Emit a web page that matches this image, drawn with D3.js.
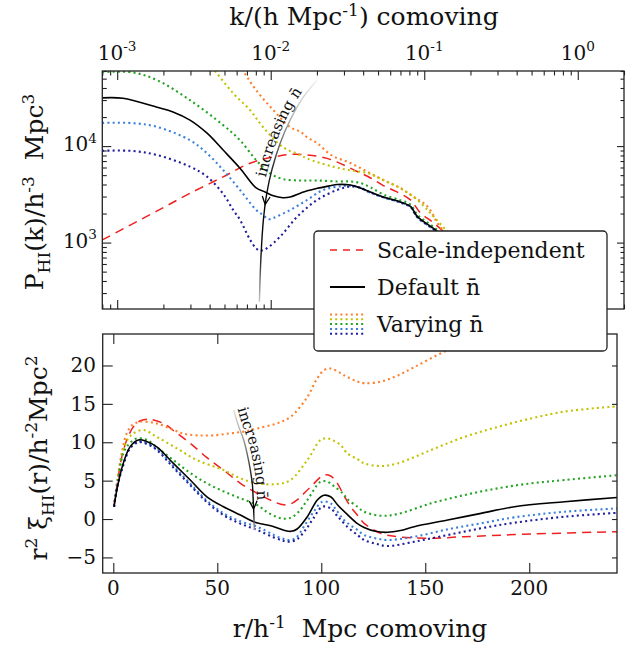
<!DOCTYPE html>
<html>
<head>
<meta charset="utf-8">
<script src="https://cdn.jsdelivr.net/npm/d3@7/dist/d3.min.js"></script>
<style>
  html, body { margin: 0; padding: 0; background: #fff; }
  text { font-family: "DejaVu Serif", serif; fill: #111; white-space: pre; }
</style>
</head>
<body>
<svg id="fig" width="635" height="647"></svg>
<script>
// ---------------- HI power spectrum, P(k) in h^-3 Mpc^3 ----------------
const pkScaleIndependent = [[8.0e-4,1066],[1.82e-3,2130],[2.98e-3,3240],[4.90e-3,4800],[7.34e-3,6650],[0.0104,7700],[0.0134,8200],[0.0173,8100],[0.0230,7500],[0.0297,6400],[0.0366,5450],[0.0445,4700],[0.0541,3900],[0.066,3370],[0.0813,2770],[0.0944,2030],[0.115,1600],[0.16,1000],[0.22,600]];
const pkDefault = [[8.0e-4,31600],[1.09e-3,31300],[1.82e-3,25300],[2.31e-3,22600],[2.98e-3,18600],[3.85e-3,13600],[4.90e-3,9100],[6.31e-3,5900],[8.04e-3,3680],[9.19e-3,3350],[0.0104,3050],[0.0120,2920],[0.0134,2970],[0.0156,3250],[0.0173,3450],[0.0201,3650],[0.0244,3880],[0.0271,4000],[0.0330,3950],[0.0383,3680],[0.0445,3350],[0.0541,2970],[0.0698,2640],[0.0813,2370],[0.0850,2150],[0.0902,1860],[0.122,1300],[0.16,850],[0.22,500]];
const pkNbar1 = [[3.0e-3,250000],[4.5e-3,140000],[5.5e-3,90000],[6.61e-3,60000],[8.04e-3,37900],[0.0104,23600],[0.0134,15700],[0.0156,14100],[0.0173,12300],[0.0201,10700],[0.0250,8000],[0.0330,6670],[0.0425,5430],[0.0541,4450],[0.0698,3680],[0.0850,2990],[0.105,2370],[0.127,1450],[0.16,1050],[0.22,620]];
const pkNbar2 = [[1.5e-3,200000],[2.5e-3,140000],[3.5e-3,90000],[4.34e-3,60000],[5.69e-3,35300],[7.34e-3,23600],[8.92e-3,15700],[0.0120,9770],[0.0156,8080],[0.0173,7400],[0.0255,6120],[0.0330,5600],[0.0425,5260],[0.0541,4450],[0.0698,3650],[0.0902,2770],[0.115,1860],[0.16,1050],[0.22,620]];
const pkNbar3 = [[8.0e-4,58500],[1.26e-3,58000],[1.82e-3,48200],[2.98e-3,29900],[4.90e-3,16500],[6.31e-3,11500],[8.04e-3,7160],[9.90e-3,5220],[0.0120,4560],[0.0156,4400],[0.0201,4400],[0.0271,4300],[0.0330,4300],[0.0383,4150],[0.0445,3750],[0.0541,3150],[0.0698,2750],[0.0813,2480],[0.0902,1950],[0.122,1350],[0.16,880],[0.22,520]];
const pkNbar4 = [[8.0e-4,17400],[1.26e-3,17300],[1.82e-3,15800],[2.98e-3,11500],[3.85e-3,8400],[4.90e-3,5650],[6.31e-3,3510],[8.04e-3,2180],[8.92e-3,1930],[9.62e-3,1750],[0.0104,1800],[0.0134,2180],[0.0173,2770],[0.0220,3510],[0.0297,3860],[0.0366,3800],[0.0445,3300],[0.0541,2950],[0.0698,2620],[0.0813,2350],[0.0902,1840],[0.122,1280],[0.16,840],[0.22,500]];
const pkNbar5 = [[8.0e-4,8940],[1.26e-3,8900],[1.82e-3,8070],[2.98e-3,6120],[3.85e-3,4820],[4.90e-3,3200],[5.69e-3,2180],[6.31e-3,1720],[7.34e-3,1070],[8.04e-3,870],[8.53e-3,826],[9.19e-3,850],[0.0115,1150],[0.0149,1860],[0.0201,2770],[0.0271,3510],[0.0330,3800],[0.0383,3700],[0.0445,3300],[0.0541,2950],[0.0698,2600],[0.0813,2340],[0.0902,1830],[0.122,1270],[0.16,830],[0.22,500]];

// ---------------- correlation function, r^2 xi(r) ----------------
const xiScaleIndependent = [[0.34,1.6],[2,4.8],[4,8],[6.46,10.3],[9.64,12.0],[13,12.8],[16.9,13.0],[24.1,12.45],[30,11.3],[37,9.86],[45,8.0],[53,6.38],[61.1,4.65],[69.2,3.35],[76,2.4],[82,1.85],[85.5,2.0],[88.4,2.5],[94.9,4.2],[101.3,5.73],[104.5,5.6],[107.7,4.65],[111,3.0],[114.1,1.6],[117.4,0.5],[120.6,-0.56],[128.6,-1.86],[136.7,-2.3],[152.7,-2.5],[168.9,-2.3],[200.9,-1.95],[243,-1.65]];
const xiDefault = [[0.34,1.6],[2,4.2],[4.8,7.25],[8.05,9.4],[12.1,10.3],[16,10.1],[20.9,9.4],[28.9,7.25],[37,5.08],[45,2.9],[53,1.6],[61.1,0.52],[67.5,-0.35],[77.2,-1.0],[82,-1.45],[85.5,-1.6],[88.4,-1.3],[93.3,0.3],[98.1,2.47],[101.3,3.1],[104.5,2.9],[108,1.8],[112.5,0.6],[117.4,-0.6],[120.6,-1.1],[126,-1.6],[131.8,-1.73],[138,-1.5],[144.7,-1.0],[160.8,-0.13],[176.8,0.74],[192.9,1.6],[217,2.25],[243,2.82]];
const xiNbar1 = [[0.34,1.6],[2,5.2],[4.05,8.55],[6.46,11.16],[9,12.2],[12.9,12.67],[20.9,12.45],[28.9,11.6],[34,11.1],[40.2,10.9],[48,10.9],[56.3,11.16],[63,11.4],[69.2,11.8],[78,12.4],[85.2,13.3],[93.3,15.9],[98,18.3],[101.4,19.4],[104.5,19.6],[109.3,19.0],[112.5,18.5],[117.4,17.9],[120.7,17.7],[128.6,17.9],[136,18.6],[144.8,19.8],[159.2,21.8],[175,23.5],[190,25]];
const xiNbar2 = [[0.34,1.6],[2,5],[4.8,9.0],[7,10.4],[9.64,11.16],[14.5,11.6],[20.9,10.7],[30.6,9.2],[40.2,7.68],[53,6.38],[61.1,5.3],[69.2,4.65],[78.8,4.56],[85.2,5.08],[93.3,7.68],[99.7,10.3],[102.9,10.5],[106,10.2],[109.3,9.64],[112.5,8.55],[117.4,7.8],[120.7,7.25],[128.6,6.9],[136.7,7.25],[152.7,8.98],[168.9,10.7],[184.9,12.0],[200.9,13.1],[217.1,14.0],[243,14.7]];
const xiNbar3 = [[0.34,1.6],[2,4.6],[4.8,8.55],[8,9.9],[11.3,10.5],[16.1,10.3],[22,9.1],[28.9,7.68],[37,6.0],[45,4.65],[53,3.6],[61.1,2.7],[69.2,1.82],[74,0.9],[78.8,0.25],[82,0.05],[85.2,0.15],[89,0.9],[93.3,2.47],[99.7,4.86],[102.9,4.86],[106,4.3],[110.9,3.2],[112.5,2.6],[117.4,1.6],[120.6,0.95],[128.6,0.43],[136.7,0.65],[152.7,2.04],[168.9,3.13],[184.9,4.0],[200.9,4.65],[217,5.08],[243,5.73]];
const xiNbar4 = [[0.34,1.6],[2,4.3],[4.8,7.1],[8.05,9.3],[12.1,10.1],[16,9.9],[20.9,9.2],[28.9,6.9],[37,4.6],[45,2.4],[53,0.74],[61.1,-0.3],[69.2,-1.0],[77.2,-2.08],[82,-2.6],[85.2,-2.73],[88,-2.4],[91.6,-1.0],[96,0.8],[100.5,2.25],[104.5,2.04],[107.7,1.0],[110.9,-0.13],[114,-0.8],[117.4,-1.43],[120.6,-2.08],[126,-2.5],[131.8,-2.73],[144.8,-2.3],[160.8,-1.34],[176.8,-0.56],[192.9,0.22],[217,0.95],[243,1.39]];
const xiNbar5 = [[0.34,1.6],[2,4.3],[4.8,7.0],[8.05,9.2],[12.1,10.0],[16,9.8],[20.9,9.0],[28.9,6.7],[37,4.4],[45,2.2],[53,0.5],[61.1,-0.6],[69.2,-1.43],[77.2,-2.4],[82,-2.85],[85.2,-2.95],[88.5,-2.6],[92.4,-1.43],[96,0.0],[100.5,1.6],[104.5,1.4],[107.7,0.4],[112.5,-1.0],[117.4,-2.08],[120.6,-2.73],[126,-3.2],[131.8,-3.52],[144.8,-2.95],[160.8,-2.08],[176.8,-1.21],[192.9,-0.48],[217,0.30],[243,0.82]];

// series styling (lowest to highest number density)
const nbarColors = ["#ff7f2a", "#c2c200", "#22a322", "#3c80dd", "#1e1e9e"];
const scaleIndepColor = "#f02020";

// ticks and labels
const kMajorTicks = [1e-3, 1e-2, 1e-1, 1];
const kTickExponents = ["-3", "-2", "-1", "0"];
const pMajorTicks = [1e3, 1e4];
const pTickExponents = ["3", "4"];
const rTicks = [0, 50, 100, 150, 200];
const xiTicks = [-5, 0, 5, 10, 15, 20];
const legendLabels = ["Scale-independent", "Default n\u0304", "Varying n\u0304"];
const arrowLabel = "increasing n\u0304";

// annotation arrows, in data coordinates of each panel (listed in reading order of the label)
const pkArrow = [[8.44e-3,244],[8.62e-3,662],[8.96e-3,1717],[9.43e-3,3245],[0.01017,5650],[0.01151,10660],[0.01338,18570],[0.01634,32360],[0.0200,48200]];
const pkArrowTip = [9.2e-3, 2480];
const pkLabelStart = 4700;   // P where the label begins along the arrow
const xiArrow = [[57.9,14.2],[60.1,12.2],[62.7,10.3],[64.5,8.33],[65.9,6.38],[66.9,4.43],[67.2,2.9],[67.5,1.17],[67.8,-1.43]];
const xiArrowTip = [67.45, 1.3];
const xiLabelStart = 14.5;   // r^2 xi where the label begins along the arrow

// ---------------- layout ----------------
const svg = d3.select("#fig");
const boxTop = { x0: 102.3, x1: 624, y0: 71, y1: 309 };
const boxBot = { x0: 102.7, x1: 617, y0: 334, y1: 573 };

const kScale = d3.scaleLog().domain([8e-4, 2]).range([boxTop.x0, boxTop.x1]);
const pScale = d3.scaleLog().domain([205, 6e4]).range([boxTop.y1, boxTop.y0]);
const rScale = d3.scaleLinear().domain([-5.1, 242.2]).range([boxBot.x0, boxBot.x1]);
const xiScale = d3.scaleLinear().domain([-7.03, 24.1]).range([boxBot.y1, boxBot.y0]);

const defs = svg.append("defs");
defs.append("clipPath").attr("id", "clipTop").append("rect")
  .attr("x", boxTop.x0).attr("y", boxTop.y0).attr("width", boxTop.x1 - boxTop.x0).attr("height", boxTop.y1 - boxTop.y0);
defs.append("clipPath").attr("id", "clipBot").append("rect")
  .attr("x", boxBot.x0).attr("y", boxBot.y0).attr("width", boxBot.x1 - boxBot.x0).attr("height", boxBot.y1 - boxBot.y0);

// text with super/subscripts
function rich(sel, parts, size, supRaise = 0.42) {
  let cur = 0;
  for (const [t, kind] of parts) {
    const off = kind === "sup" ? -supRaise * size : kind === "sub" ? 0.28 * size : 0;
    const ts = sel.append("tspan").attr("dy", (off - cur).toFixed(2)).text(t);
    if (kind) ts.attr("font-size", (0.68 * size).toFixed(1));
    cur = off;
  }
  return sel;
}

// inward ticks drawn with d3 axes
function tickRow(axisFn, scale, values, size, tx, ty) {
  svg.append("g").attr("transform", `translate(${tx},${ty})`).attr("color", "#222")
    .call(axisFn(scale).tickValues(values).tickSize(-size).tickFormat(""))
    .call(g => g.select(".domain").remove())
    .call(g => g.selectAll("line").attr("stroke-width", 1.1));
}

const isDecade = v => Math.abs(Math.log10(v) - Math.round(Math.log10(v))) < 1e-9;
const kMinor = kScale.ticks().filter(v => !isDecade(v));
const pMinor = pScale.ticks().filter(v => !isDecade(v));

// ---- top panel ticks ----
tickRow(d3.axisTop, kScale, kMajorTicks, 9, 0, boxTop.y0);
tickRow(d3.axisTop, kScale, kMinor, 4.5, 0, boxTop.y0);
tickRow(d3.axisBottom, kScale, kMajorTicks, 9, 0, boxTop.y1);
tickRow(d3.axisBottom, kScale, kMinor, 4.5, 0, boxTop.y1);
tickRow(d3.axisLeft, pScale, pMajorTicks, 9, boxTop.x0, 0);
tickRow(d3.axisLeft, pScale, pMinor, 4.5, boxTop.x0, 0);
tickRow(d3.axisRight, pScale, pMajorTicks, 7, boxTop.x1, 0);
tickRow(d3.axisRight, pScale, pMinor, 3.5, boxTop.x1, 0);

// ---- bottom panel ticks ----
tickRow(d3.axisBottom, rScale, rTicks, 10, 0, boxBot.y1);
tickRow(d3.axisTop, rScale, rTicks, 10, 0, boxBot.y0);
tickRow(d3.axisLeft, xiScale, xiTicks, 10, boxBot.x0, 0);
tickRow(d3.axisRight, xiScale, xiTicks, 5, boxBot.x1, 0);

// ---- curves ----
const smooth = d3.curveCatmullRom.alpha(0.5);
const pkLine = d3.line().x(d => kScale(d[0])).y(d => pScale(d[1])).curve(smooth);
const xiLine = d3.line().x(d => rScale(d[0])).y(d => xiScale(d[1])).curve(smooth);

const gTop = svg.append("g").attr("clip-path", "url(#clipTop)").attr("fill", "none");
const gBot = svg.append("g").attr("clip-path", "url(#clipBot)").attr("fill", "none");

const DOT = "2,3.2", DASH = "9,6";

function drawSet(g, line, scaleIndep, varying, deflt) {
  g.append("path").attr("d", line(scaleIndep)).attr("stroke", scaleIndepColor)
    .attr("stroke-width", 1.5).attr("stroke-dasharray", DASH);
  varying.forEach((s, i) => {
    g.append("path").attr("d", line(s)).attr("stroke", nbarColors[i])
      .attr("stroke-width", 2.1).attr("stroke-dasharray", DOT);
  });
  g.append("path").attr("d", line(deflt)).attr("stroke", "#000").attr("stroke-width", 1.6);
}
drawSet(gTop, pkLine, pkScaleIndependent, [pkNbar1, pkNbar2, pkNbar3, pkNbar4, pkNbar5], pkDefault);
drawSet(gBot, xiLine, xiScaleIndependent, [xiNbar1, xiNbar2, xiNbar3, xiNbar4, xiNbar5], xiDefault);

// ---- "increasing n" arrows with labels running alongside ----
function fadingArrow(id, pts, tip, labelY, stops) {
  const p0 = pts[0], p1 = pts[pts.length - 1];
  const top = p0[1] < p1[1] ? p0 : p1, bottom = top === p0 ? p1 : p0;
  const gr = defs.append("linearGradient").attr("id", id).attr("gradientUnits", "userSpaceOnUse")
    .attr("x1", top[0]).attr("y1", top[1]).attr("x2", bottom[0]).attr("y2", bottom[1]);
  stops.forEach(([o, c]) => gr.append("stop").attr("offset", o).attr("stop-color", c));
  const curve = d3.line().curve(d3.curveCatmullRom);
  svg.append("path").attr("d", curve(pts))
    .attr("fill", "none").attr("stroke", `url(#${id})`).attr("stroke-width", 1.4);

  // arrowhead oriented along the local downward direction of the curve
  const down = pts.slice().sort((a, b) => a[1] - b[1]);
  let j = down.findIndex(p => p[1] > tip[1]);
  if (j < 1) j = 1;
  const a = down[j - 1], b = down[j];
  const dx = b[0] - a[0], dy = b[1] - a[1], L = Math.hypot(dx, dy);
  const ux = dx / L, uy = dy / L, wl = 9, sp = 0.45, c = Math.cos(sp), s = Math.sin(sp);
  const w1 = [tip[0] - wl * (ux * c - uy * s), tip[1] - wl * (uy * c + ux * s)];
  const w2 = [tip[0] - wl * (ux * c + uy * s), tip[1] - wl * (uy * c - ux * s)];
  svg.append("path").attr("d", `M${w1}L${tip}L${w2}`).attr("fill", "none")
    .attr("stroke", "#000").attr("stroke-width", 1.3);

  // label baseline: the arrow curve shifted a few pixels towards the glyph tops
  const gap = 4;
  const shifted = pts.map((p, i) => {
    const q0 = pts[Math.max(0, i - 1)], q1 = pts[Math.min(pts.length - 1, i + 1)];
    const tx = q1[0] - q0[0], ty = q1[1] - q0[1], tl = Math.hypot(tx, ty);
    return [p[0] + gap * ty / tl, p[1] - gap * tx / tl];
  });
  const guide = defs.append("path").attr("id", id + "Guide").attr("d", curve(shifted));
  const node = guide.node(), total = node.getTotalLength();
  let start = 0;
  for (let l = 0; l <= total; l += 0.5) {
    const pt = node.getPointAtLength(l);
    const passed = top === p1 ? pt.y <= labelY : pt.y >= labelY;
    if (passed) { start = l; break; }
  }
  svg.append("text").attr("font-size", 15)
    .append("textPath").attr("href", `#${id}Guide`).attr("startOffset", start.toFixed(1))
    .text(arrowLabel);
}
const px = (sx, sy) => d => [sx(d[0]), sy(d[1])];
const pkPx = px(kScale, pScale), xiPx = px(rScale, xiScale);

fadingArrow("fadeTop", pkArrow.map(pkPx), pkPx(pkArrowTip), pScale(pkLabelStart),
  [[0, "#f2f2f2"], [0.2, "#aaaaaa"], [0.4, "#333"], [0.55, "#000"], [0.8, "#111"], [1, "#c8c8c8"]]);
fadingArrow("fadeBot", xiArrow.map(xiPx), xiPx(xiArrowTip), xiScale(xiLabelStart),
  [[0, "#e0e0e0"], [0.3, "#888"], [0.6, "#111"], [0.85, "#000"], [1, "#aaaaaa"]]);

// ---- frames ----
[boxTop, boxBot].forEach(b => svg.append("rect").attr("x", b.x0).attr("y", b.y0)
  .attr("width", b.x1 - b.x0).attr("height", b.y1 - b.y0)
  .attr("fill", "none").attr("stroke", "#222").attr("stroke-width", 1.3));

// ---- tick labels ----
const TS = 20;
kMajorTicks.forEach((k, i) => {
  rich(svg.append("text").attr("x", kScale(k)).attr("y", 59.5).attr("text-anchor", "middle").attr("font-size", TS),
    [["10", null], [kTickExponents[i], "sup"]], TS);
});
pMajorTicks.forEach((p, i) => {
  rich(svg.append("text").attr("x", 97).attr("y", pScale(p) + 5).attr("text-anchor", "end").attr("font-size", TS),
    [["10", null], [pTickExponents[i], "sup"]], TS);
});
rTicks.forEach(r => {
  svg.append("text").attr("x", rScale(r)).attr("y", 595).attr("text-anchor", "middle")
    .attr("font-size", TS).text(d3.format("d")(r));
});
xiTicks.forEach(v => {
  svg.append("text").attr("x", 96).attr("y", xiScale(v) + 7).attr("text-anchor", "end")
    .attr("font-size", TS).text(v < 0 ? "\u2212" + Math.abs(v) : String(v));
});

// ---- axis titles ----
const AS = 25;
rich(svg.append("text").attr("x", 364).attr("y", 25).attr("text-anchor", "middle").attr("font-size", AS),
  [["k/(h Mpc", null], ["-1", "sup"], [") comoving", null]], AS, 0.36);
rich(svg.append("text").attr("x", 360).attr("y", 637).attr("text-anchor", "middle").attr("font-size", AS),
  [["r/h", null], ["-1", "sup"], ["  Mpc comoving", null]], AS, 0.36);
rich(svg.append("text").attr("transform", "translate(43,192) rotate(-90)").attr("text-anchor", "middle").attr("font-size", AS),
  [["P", null], ["HI", "sub"], ["(k)/h", null], ["-3", "sup"], ["  Mpc", null], ["3", "sup"]], AS, 0.38);
rich(svg.append("text").attr("transform", "translate(46.5,458) rotate(-90)").attr("text-anchor", "middle").attr("font-size", AS),
  [["r", null], ["2", "sup"], [" \u03be", null], ["HI", "sub"], ["(r)/h", null], ["-2", "sup"], ["Mpc", null], ["2", "sup"]], AS, 0.38);

// ---- legend ----
const lg = svg.append("g");
lg.append("rect").attr("x", 314).attr("y", 231).attr("width", 293).attr("height", 120)
  .attr("rx", 4).attr("fill", "#fff").attr("stroke", "#222").attr("stroke-width", 1.3);
const hx0 = 330, hx1 = 365, LS = 22;
lg.append("line").attr("x1", hx0).attr("x2", hx1).attr("y1", 250).attr("y2", 250)
  .attr("stroke", scaleIndepColor).attr("stroke-width", 1.5).attr("stroke-dasharray", "7,6");
lg.append("line").attr("x1", hx0).attr("x2", hx1).attr("y1", 287).attr("y2", 287)
  .attr("stroke", "#000").attr("stroke-width", 1.8);
nbarColors.forEach((c, i) => {
  lg.append("line").attr("x1", hx0).attr("x2", hx1).attr("y1", 314.5 + i * 4.8).attr("y2", 314.5 + i * 4.8)
    .attr("stroke", c).attr("stroke-width", 2).attr("stroke-dasharray", DOT);
});
legendLabels.forEach((t, i) => {
  lg.append("text").attr("x", 377).attr("y", [258, 295, 332][i]).attr("font-size", LS).text(t);
});
</script>
</body>
</html>
